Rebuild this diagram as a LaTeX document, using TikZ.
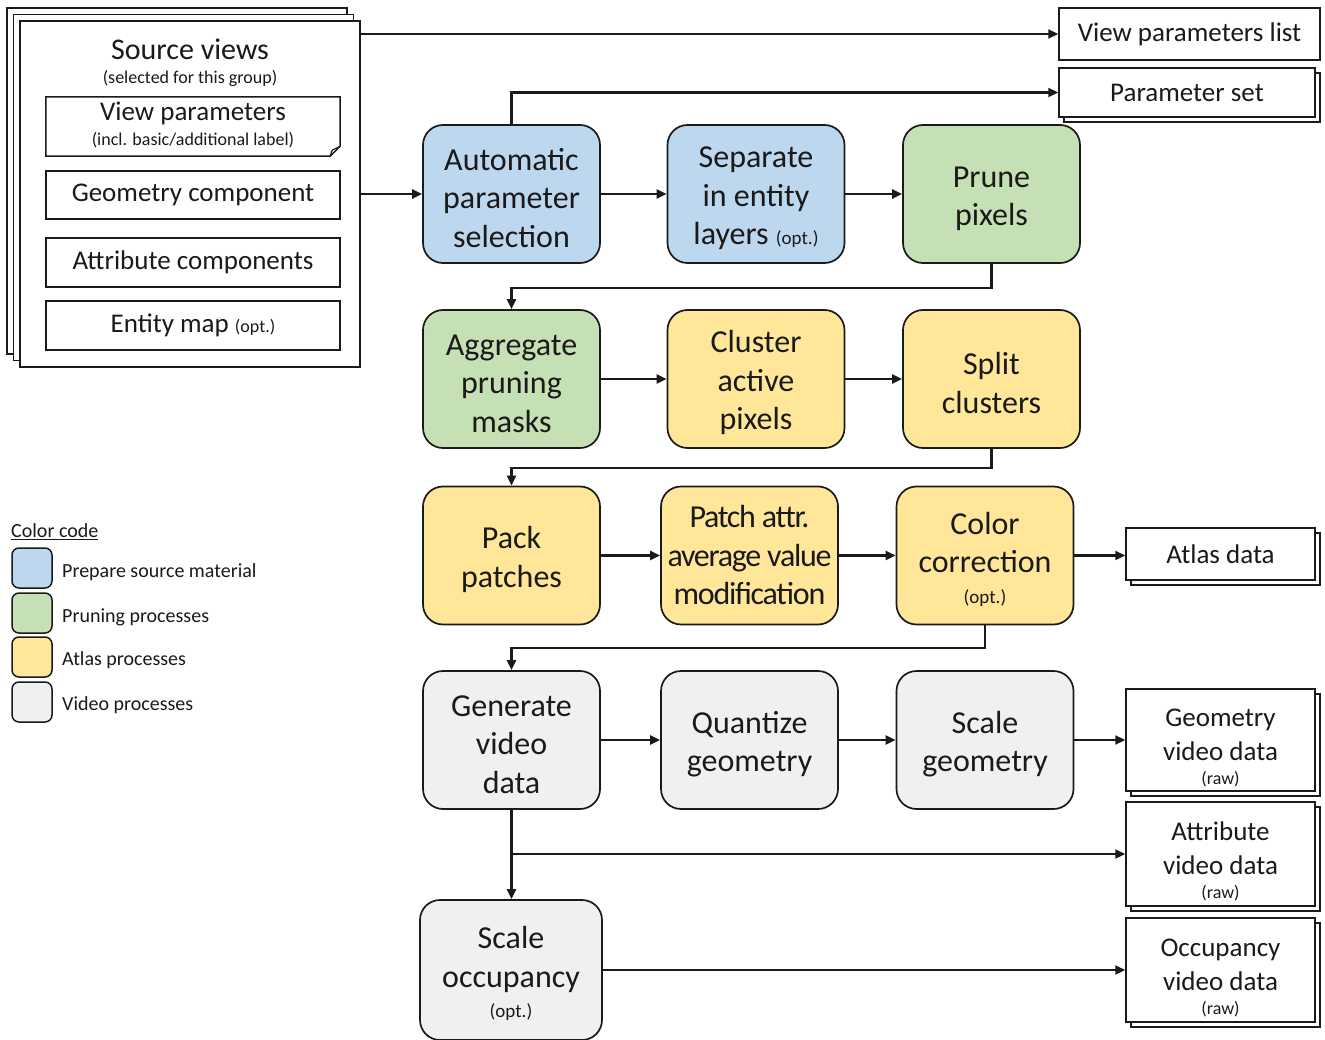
\documentclass[tikz,border=0pt]{standalone}
\usepackage{fontspec}
\setmainfont{Carlito}
\usetikzlibrary{arrows.meta,shadows,calc}
\definecolor{cblue}{HTML}{BDD7EE}
\definecolor{cgreen}{HTML}{C5E0B4}
\definecolor{cyellow}{HTML}{FFE699}
\definecolor{cgray}{HTML}{F0F0F0}
\definecolor{ln}{HTML}{1A1A1A}
\newcommand\myfs[2]{\fontsize{#1}{#2}\selectfont}
\newcommand\tp{\rule{0pt}{30pt}}
\newcommand\op{\rule{0pt}{33pt}}
\begin{document}
\begin{tikzpicture}[x=1pt,y=-1pt,
 proc/.style={draw=ln, line width=1.7pt, rounded corners=20pt, minimum width=177pt, minimum height=138pt, align=center, font=\myfs{32}{38.5}, inner sep=0pt, text=ln},
 pblue/.style={proc, fill=cblue},
 pgreen/.style={proc, fill=cgreen},
 pyellow/.style={proc, fill=cyellow},
 pgray/.style={proc, fill=cgray},
 outbox/.style={draw=ln, fill=white, line width=1.5pt, align=center, inner sep=0pt, font=\myfs{27}{34}, text=ln},
 shbox/.style={outbox, copy shadow={shadow xshift=5pt, shadow yshift=-5pt, draw=ln, fill=white, line width=1.5pt}},
 comp/.style={draw=ln, line width=1.5pt, minimum width=294pt, inner sep=0pt, font=\myfs{27}{32}, text=ln},
 conn/.style={draw=ln, line width=2.2pt, -{Triangle[length=10pt,width=9pt]}},
 swatch/.style={draw=ln, line width=1.5pt, rounded corners=7pt, minimum size=40pt, inner sep=0pt},
 leg/.style={anchor=west, font=\myfs{20}{24}, inner sep=0pt, text=ln},
 small/.style={font=\myfs{18}{22}, inner sep=0pt, text=ln},
]
\useasboundingbox[fill=white] (0,0) rectangle (1325,1040);

% Source views stack
\node[draw=ln, fill=white, line width=1.5pt, minimum width=340pt, minimum height=346pt, inner sep=0pt,
  double copy shadow={shadow xshift=-6.5pt, shadow yshift=6.5pt, draw=ln, fill=white, line width=1.5pt}] (src) at (190,194) {};
\node[font=\myfs{30}{34}, inner sep=0pt, text=ln] (srct) at (190,49) {Source views};
\node[small] (srcs) at (190,78) {(selected for this group)};

\node[minimum width=294pt, minimum height=59pt, inner sep=0pt] (vp) at (193,126.5) {};
\draw[draw=ln, line width=1.5pt] (vp.north west) -- (vp.north east) -- ($(vp.south east)+(0,-10)$) -- ($(vp.south east)+(-10,0)$) -- (vp.south west) -- cycle;
\draw[draw=ln, line width=1.2pt] ($(vp.south east)+(-10,0)$) -- ($(vp.south east)+(-8,-6)$) -- ($(vp.south east)+(0,-10)$);
\node[font=\myfs{27}{32}, inner sep=0pt, text=ln] (vpt) at (193,113) {View parameters};
\node[small] (vps) at (193,140) {(incl. basic/additional label)};

\node[comp, minimum height=48pt] (gc) at (193,195) {\raisebox{-5pt}{Geometry component}};
\node[comp, minimum height=49pt] (ac) at (193,262.5) {\raisebox{-5pt}{Attribute components}};
\node[comp, minimum height=49pt] (em) at (193,325.5) {\raisebox{-5pt}{Entity map {\myfs{18}{22}(opt.)}}};

% Outputs
\node[outbox, minimum width=261pt, minimum height=52pt] (vpl) at (1189.5,34) {View parameters list};
\node[shbox, minimum width=256pt, minimum height=49pt] (ps) at (1187,92.5) {\raisebox{-2pt}{Parameter set}};
\node[shbox, minimum width=189pt, minimum height=52pt] (atlas) at (1220.5,554) {Atlas data};
\node[shbox, minimum width=189pt, minimum height=102pt] (gvd) at (1220.5,740) {\op Geometry\\video data\\[-10pt]{\myfs{18}{22}(raw)}};
\node[shbox, minimum width=189pt, minimum height=104pt] (avd) at (1220.5,854) {\op Attribute\\video data\\[-10pt]{\myfs{18}{22}(raw)}};
\node[shbox, minimum width=189pt, minimum height=104pt] (ovd) at (1220.5,970) {\op Occupancy\\video data\\[-10pt]{\myfs{18}{22}(raw)}};

% Processes
\node[pblue] (auto) at (511.5,194) {\tp Automatic\\parameter\\selection};
\node[pblue] (sep) at (756,194) {\tp Separate\\in entity\\layers {\myfs{19}{22}(opt.)}};
\node[pgreen] (prune) at (991.5,194) {\tp Prune\\pixels};
\node[pgreen] (agg) at (511.5,379) {\tp Aggregate\\pruning\\masks};
\node[pyellow] (clu) at (756,379) {\tp Cluster\\active\\pixels};
\node[pyellow] (split) at (991.5,379) {\tp Split\\clusters};
\node[pyellow] (pack) at (511.5,555.5) {\tp Pack\\patches};
\node[pyellow, font=\myfs{32}{38.5}\addfontfeature{LetterSpace=-4}] (patch) at (749.5,555.5) {Patch attr.\\average value\\modification};
\node[pyellow] (color) at (985,555.5) {\tp Color\\correction\\[-8pt]{\myfs{19}{22}(opt.)}};
\node[pgray] (gen) at (511.5,740) {\tp Generate\\video\\data};
\node[pgray] (quant) at (749.5,740) {\tp Quantize\\geometry};
\node[pgray] (sgeo) at (985,740) {\tp Scale\\geometry};
\node[pgray, minimum width=182pt, minimum height=140pt] (socc) at (511,970) {\tp Scale\\occupancy\\[-8pt]{\myfs{19}{22}(opt.)}};

% Legend
\node[leg] (cc) at (11,532) {\underline{Color code}};
\node[swatch, fill=cblue] (sw1) at (32,568) {};
\node[swatch, fill=cgreen] (sw2) at (32,613) {};
\node[swatch, fill=cyellow] (sw3) at (32,657) {};
\node[swatch, fill=cgray] (sw4) at (32,702) {};
\node[leg] (l1) at (62,572) {Prepare source material};
\node[leg] (l2) at (62,617) {Pruning processes};
\node[leg] (l3) at (62,660) {Atlas processes};
\node[leg] (l4) at (62,705) {Video processes};

% Connectors
\draw[conn] (src.east |- vpl.west) -- (vpl.west);
\draw[conn] (src.east) -- (auto.west);
\draw[conn] (auto.north) |- (ps.west);
\draw[conn] (auto.east) -- (sep.west);
\draw[conn] (sep.east) -- (prune.west);
\draw[conn] (prune.south) -- ++(0,24) -| (agg.north);
\draw[conn] (agg.east) -- (clu.west);
\draw[conn] (clu.east) -- (split.west);
\draw[conn] (split.south) -- ++(0,19) -| (pack.north);
\draw[conn] (pack.east) -- (patch.west);
\draw[conn] (patch.east) -- (color.west);
\draw[conn] (color.east) -- (color.east -| atlas.west);
\draw[conn] (color.south) -- ++(0,23) -| (gen.north);
\draw[conn] (gen.east) -- (quant.west);
\draw[conn] (quant.east) -- (sgeo.west);
\draw[conn] (sgeo.east) -- (sgeo.east -| gvd.west);
\draw[conn] (gen.south) -- (gen.south |- socc.north);
\draw[conn] (gen.south |- avd.west) -- (avd.west);
\draw[conn] (socc.east) -- (socc.east -| ovd.west);
\end{tikzpicture}
\end{document}
